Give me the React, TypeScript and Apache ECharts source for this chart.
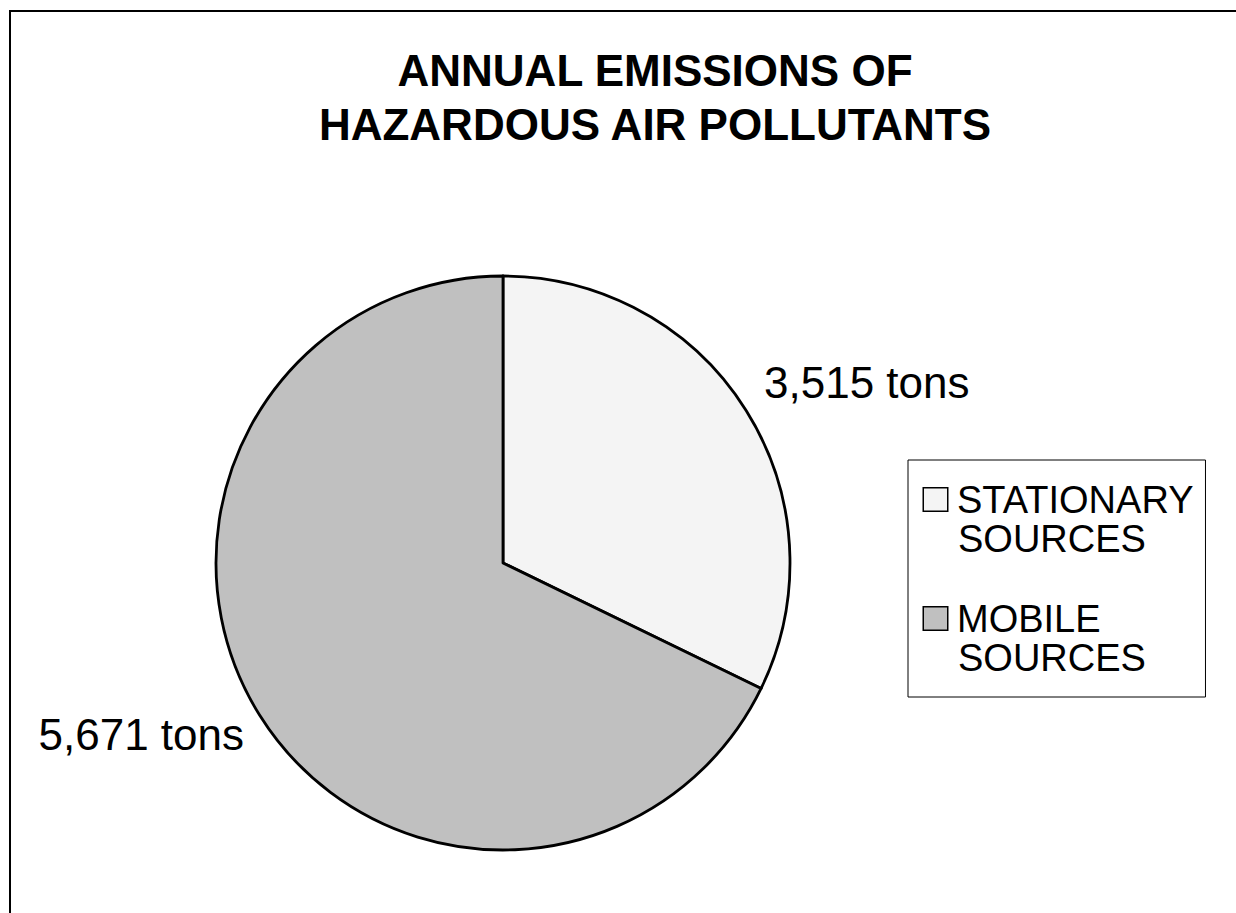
import React, { useEffect, useRef } from "react";
import * as echarts from "echarts";

const titleLines = ["ANNUAL EMISSIONS OF", "HAZARDOUS AIR POLLUTANTS"];
const categories = ["STATIONARY SOURCES", "MOBILE SOURCES"];
const legendLines = [
  ["STATIONARY", "SOURCES"],
  ["MOBILE", "SOURCES"],
];
// share of the pie as drawn in the picture (percent)
const sliceShare = [32.2, 67.8];
// tonnage written next to each slice
const tons = [3515, 5671];
const colors = ["#f4f4f4", "#c0c0c0"];

const FONT = "'Liberation Sans', Arial, Helvetica, sans-serif";

export default function App() {
  const ref = useRef<HTMLDivElement>(null);

  useEffect(() => {
    if (!ref.current) return;
    const chart = echarts.init(ref.current, undefined, { renderer: "svg" });

    const rich: Record<string, any> = {
      t: { fontSize: 38, lineHeight: 39, fontFamily: FONT, color: "#000" },
      g: { width: 10, lineHeight: 39 },
      s: { width: 34, lineHeight: 39 },
    };
    colors.forEach((c, i) => {
      rich["m" + i] = {
        width: 23,
        height: 22,
        backgroundColor: c,
        borderColor: "#000",
        borderWidth: 1.5,
        lineHeight: 39,
      };
    });

    const option: any = {
      animation: false,
      backgroundColor: "#fff",
      title: {
        text: titleLines.join("\n"),
        left: 655,
        top: 43,
        textAlign: "center",
        padding: 0,
        textStyle: {
          fontFamily: FONT,
          fontSize: 44,
          fontWeight: "bold",
          lineHeight: 54,
          color: "#000",
        },
      },
      legend: {
        orient: "vertical",
        left: 908,
        top: 460,
        padding: [20, 12, 20, 10],
        itemGap: 41,
        itemWidth: 0,
        itemHeight: 0,
        borderColor: "#000",
        borderWidth: 1,
        selectedMode: false,
        data: categories,
        formatter: (name: string) => {
          const i = categories.indexOf(name);
          const [a, b] = legendLines[i];
          return `{m${i}|}{g|}{t|${a}}\n{s|}{t|${b}}`;
        },
        textStyle: { rich, fontFamily: FONT, fontSize: 38, lineHeight: 39 },
      },
      graphic: [
        {
          type: "polyline",
          shape: { points: [[10, 1000], [10, 11], [1400, 11]] },
          style: { fill: "none", stroke: "#000", lineWidth: 2 },
          silent: true,
        },
      ],
      series: [
        {
          type: "pie",
          center: [503, 563],
          radius: [0, 287],
          startAngle: 90,
          clockwise: true,
          silent: true,
          itemStyle: { borderColor: "#000", borderWidth: 2.8 },
          label: {
            show: true,
            position: "outside",
            overflow: "none",
            edgeDistance: 0,
            fontFamily: FONT,
            fontSize: 44,
            color: "#000",
            formatter: (p: any) => tons[p.dataIndex].toLocaleString("en-US") + " tons",
          },
          labelLine: { show: false },
          labelLayout: (p: any) =>
            p.dataIndex === 0
              ? { x: 764, y: 382, align: "left", verticalAlign: "middle" }
              : { x: 244, y: 734, align: "right", verticalAlign: "middle" },
          data: categories.map((name, i) => ({
            name,
            value: sliceShare[i],
            itemStyle: { color: colors[i] },
          })),
        },
      ],
    };

    chart.setOption(option);
    return () => chart.dispose();
  }, []);

  return (
    <div
      ref={ref}
      style={{ position: "absolute", left: 0, top: 0, width: 1236, height: 913 }}
    />
  );
}
